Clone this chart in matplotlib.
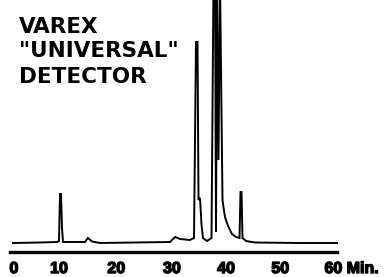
import matplotlib
matplotlib.use("Agg")
import matplotlib.pyplot as plt
import matplotlib.patheffects as pe
import matplotlib.transforms as mtransforms

# chromatogram trace: retention time (min) vs detector signal
# (signal in arbitrary units, values above 242 run off the top of the chart)
times = [0.66, 5.65, 8.79, 9.15, 9.34, 9.52, 9.71, 9.89, 13.95, 14.50,
         15.25, 16.72, 29.64, 30.60, 31.50, 33.30, 34.07, 34.44, 34.72, 34.90,
         35.18, 35.46, 35.73, 36.47, 37.30, 37.67, 37.95, 38.13, 38.32, 38.59,
         38.87, 39.33, 39.51, 39.79, 40.35, 41.08, 41.83, 42.47, 42.65, 42.84,
         43.02, 43.67, 45.33, 53.64, 60.47]
signal = [-1, -0.5, 0, 1, 48, 48, 14, 0, 0, 4,
          0.5, -1, 0, 5, 3, 2, 4, 200, 200, 42,
          44, 17, 4, 1, 4, 262, 262, 10, 262, 82,
          262, 42, 35, 25, 16, 8, 5, 4, 50, 50,
          4, 1, -0.5, -1, -1]

tick_minutes = [0, 10, 20, 30, 40, 50, 60]
tick_labels = ["0", "10", "20", "30", "40", "50", "60 Min."]
title_lines = ["VAREX", "\"UNIVERSAL\"", "DETECTOR"]

fig = plt.figure(figsize=(3.89, 2.77), dpi=100)
ax = fig.add_axes([0, 0, 1, 1])
ax.plot(times, signal, color="black", lw=1.4, solid_joinstyle="miter")

ax.set_xlim(-1.735, 70.06)
ax.set_ylim(-35, 242)

for side in ["top", "left", "right"]:
    ax.spines[side].set_visible(False)
ax.spines["bottom"].set_position(("data", -10))
ax.spines["bottom"].set_bounds(0.11, 60.47)
ax.spines["bottom"].set_linewidth(2.4)
ax.set_yticks([])

ax.set_xticks(tick_minutes)
ax.set_xticklabels(tick_labels, family="Liberation Sans", fontweight="bold",
                   fontsize=11.5)
ax.tick_params(axis="x", length=0, pad=6.5)
shifts = [4.5, -4.5, -1.5, 0, 0, 0, -10]
for lab, dx in zip(ax.get_xticklabels(), shifts):
    lab.set_path_effects([pe.withStroke(linewidth=1.0, foreground="black")])
    lab.set_transform(lab.get_transform() +
                      mtransforms.ScaledTranslation(dx / 100, 0, fig.dpi_scale_trans))
ax.get_xticklabels()[-1].set_ha("left")

# stacked caption in the upper left
baselines = [33, 57, 83]
for line, base in zip(title_lines, baselines):
    fig.text(19 / 389, 1 - base / 277, line, family="DejaVu Sans",
             fontweight="bold", fontsize=15.5, va="baseline", ha="left")

fig.savefig("out.png", dpi=100)
